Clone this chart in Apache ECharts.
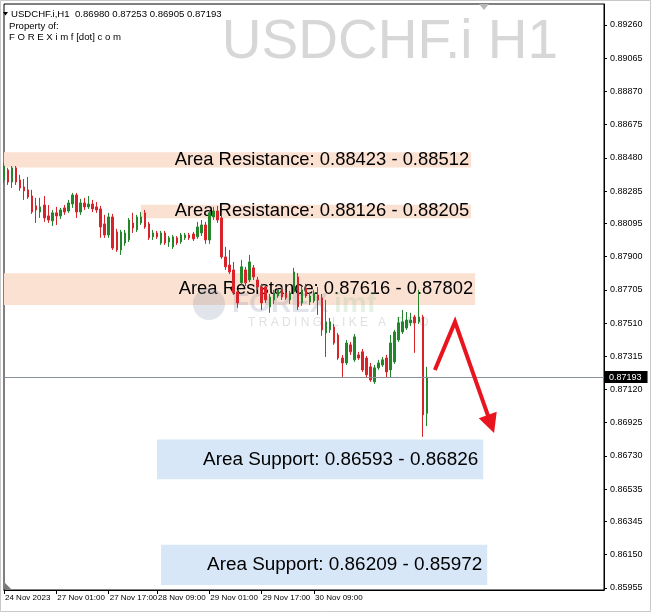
<!DOCTYPE html>
<html><head><meta charset="utf-8">
<script src="https://cdn.jsdelivr.net/npm/echarts@6/dist/echarts.min.js"></script>
<style>html,body{margin:0;padding:0;background:#fff}#c{width:652px;height:613px}</style>
</head><body><div id="c"></div>
<script>
// H1 candles: [open, close, low, high]
const candles = [
[0.88350,0.88432,0.88333,0.88450],[0.88409,0.88338,0.88321,0.88421],[0.88338,0.88421,0.88303,0.88432],
[0.88421,0.88338,0.88321,0.88432],[0.88350,0.88303,0.88286,0.88380],[0.88309,0.88286,0.88233,0.88356],
[0.88292,0.88250,0.88239,0.88368],[0.88256,0.88162,0.88151,0.88292],[0.88198,0.88174,0.88098,0.88245],
[0.88162,0.88192,0.88127,0.88245],[0.88203,0.88127,0.88104,0.88256],[0.88139,0.88115,0.88098,0.88203],
[0.88110,0.88157,0.88080,0.88174],[0.88157,0.88139,0.88086,0.88192],[0.88139,0.88174,0.88121,0.88186],
[0.88186,0.88162,0.88145,0.88203],[0.88168,0.88215,0.88157,0.88233],[0.88209,0.88262,0.88186,0.88274],
[0.88262,0.88162,0.88127,0.88274],[0.88162,0.88215,0.88145,0.88239],[0.88215,0.88192,0.88174,0.88245],
[0.88192,0.88209,0.88180,0.88256],[0.88209,0.88180,0.88162,0.88233],[0.88192,0.88174,0.88157,0.88221],
[0.88180,0.88074,0.88010,0.88198],[0.88092,0.88027,0.88010,0.88145],[0.88027,0.88133,0.88010,0.88157],
[0.88133,0.87951,0.87939,0.88151],[0.88045,0.87939,0.87928,0.88063],[0.87939,0.88045,0.87910,0.88057],
[0.87980,0.88039,0.87963,0.88057],[0.87998,0.88115,0.87986,0.88127],[0.88098,0.88068,0.88039,0.88157],
[0.88057,0.88133,0.88045,0.88145],[0.88098,0.88133,0.88086,0.88162],[0.88157,0.88074,0.88063,0.88174],
[0.88092,0.88010,0.87998,0.88104],[0.88016,0.88039,0.87998,0.88057],[0.88039,0.88016,0.88004,0.88051],
[0.87980,0.88039,0.87969,0.88051],[0.88039,0.87980,0.87969,0.88051],[0.87986,0.88010,0.87957,0.88021],
[0.87957,0.88016,0.87945,0.88027],[0.88010,0.87980,0.87969,0.88021],[0.87986,0.88027,0.87975,0.88039],
[0.88010,0.88027,0.87998,0.88039],[0.88027,0.88010,0.87998,0.88039],[0.88033,0.88004,0.87992,0.88045],
[0.88016,0.88074,0.88004,0.88104],[0.88039,0.88086,0.88021,0.88115],[0.88086,0.87998,0.87975,0.88104],
[0.87998,0.88157,0.87975,0.88174],[0.88133,0.88168,0.88115,0.88192],[0.88168,0.88115,0.88098,0.88198],
[0.88127,0.87898,0.87887,0.88145],[0.87898,0.87840,0.87822,0.87957],[0.87851,0.87810,0.87798,0.87939],
[0.87822,0.87687,0.87675,0.87869],[0.87693,0.87628,0.87599,0.87705],[0.87746,0.87840,0.87734,0.87881],
[0.87822,0.87746,0.87728,0.87840],[0.87763,0.87869,0.87751,0.87910],[0.87834,0.87781,0.87763,0.87851],
[0.87763,0.87722,0.87705,0.87781],[0.87722,0.87628,0.87587,0.87740],[0.87722,0.87646,0.87628,0.87734],
[0.87605,0.87663,0.87570,0.87681],[0.87646,0.87687,0.87622,0.87705],[0.87669,0.87705,0.87658,0.87716],
[0.87705,0.87663,0.87646,0.87722],[0.87687,0.87658,0.87646,0.87705],[0.87646,0.87687,0.87622,0.87699],
[0.87693,0.87810,0.87681,0.87834],[0.87781,0.87605,0.87587,0.87804],[0.87628,0.87705,0.87611,0.87728],
[0.87716,0.87669,0.87658,0.87740],[0.87634,0.87669,0.87616,0.87687],[0.87640,0.87687,0.87628,0.87705],
[0.87675,0.87646,0.87558,0.87722],[0.87658,0.87470,0.87435,0.87681],[0.87452,0.87517,0.87311,0.87646],
[0.87470,0.87517,0.87452,0.87540],[0.87487,0.87393,0.87382,0.87505],[0.87440,0.87305,0.87294,0.87452],
[0.87305,0.87276,0.87194,0.87323],[0.87276,0.87393,0.87264,0.87411],[0.87382,0.87341,0.87323,0.87399],
[0.87294,0.87429,0.87282,0.87446],[0.87323,0.87305,0.87294,0.87341],[0.87341,0.87235,0.87223,0.87358],
[0.87305,0.87206,0.87188,0.87317],[0.87253,0.87176,0.87165,0.87276],[0.87165,0.87247,0.87153,0.87264],
[0.87247,0.87276,0.87235,0.87294],[0.87264,0.87294,0.87253,0.87311],[0.87305,0.87223,0.87188,0.87323],
[0.87235,0.87393,0.87188,0.87440],[0.87282,0.87458,0.87270,0.87470],[0.87411,0.87511,0.87399,0.87546],
[0.87458,0.87517,0.87446,0.87587],[0.87481,0.87528,0.87470,0.87575],[0.87511,0.87528,0.87493,0.87570],
[0.87546,0.87511,0.87335,0.87558],[0.87517,0.87546,0.87505,0.87705],[0.87546,0.86971,0.86842,0.87558],
[0.86980,0.87193,0.86905,0.87253]
];
const slotCount = 150;
const timeLabels = ['24 Nov 2023','27 Nov 01:00','27 Nov 17:00','28 Nov 09:00','29 Nov 01:00','29 Nov 17:00','30 Nov 09:00'];
const labelSlots = [0, 13, 26, 38, 51, 64, 77];
const yTicks = [0.85955,0.86150,0.86345,0.86535,0.86730,0.86925,0.87120,0.87315,0.87510,0.87705,0.87900,0.88095,0.88285,0.88480,0.88675,0.88870,0.89065,0.89260];
const yMin = 0.85943, yMax = 0.89383;
const lastPrice = 0.87193;
const headerOHLC = '0.86980 0.87253 0.86905 0.87193';

const zoneNames = ['Area Resistance','Area Resistance','Area Resistance','Area Support','Area Support'];
const zoneFrom  = [0.88423, 0.88126, 0.87616, 0.86593, 0.86209];
const zoneTo    = [0.88512, 0.88205, 0.87802, 0.86826, 0.85972];
const zoneStartSlot = [0, 34, 0, 38, 39];
const zoneEndSlot   = [116, 116, 117, 119, 120];
const zoneKind = ['res','res','res','sup','sup'];
const arrowPath = [[107, 0.87235], [112, 0.87517], [121.7, 0.86865]];

const FONT = 'Liberation Sans, Arial, sans-serif';
const RES_COLOR = '#fbe1d2', SUP_COLOR = '#d7e7f7';
const UP = '#23862a', DOWN = '#d9232b';

const categories = Array.from({length: slotCount}, (_, i) => String(i));
const labelMap = {};
labelSlots.forEach((s, i) => labelMap[s] = timeLabels[i]);

const fmt = v => v.toFixed(5);
const bandData = zoneFrom.map((f, i) => [
  {xAxis: zoneStartSlot[i], yAxis: Math.max(f, zoneTo[i]), itemStyle: {color: zoneKind[i] === 'res' ? RES_COLOR : SUP_COLOR}},
  {xAxis: zoneEndSlot[i], yAxis: Math.min(f, zoneTo[i])}
]);
const textData = zoneFrom.map((f, i) => [
  {xAxis: zoneStartSlot[i], yAxis: Math.max(f, zoneTo[i]),
   label: {formatter: zoneNames[i] + ': ' + fmt(f) + ' - ' + fmt(zoneTo[i]),
     distance: zoneKind[i] === 'res' ? 2 : 5, fontSize: zoneKind[i] === 'res' ? 18.4 : 18.9}},
  {xAxis: zoneEndSlot[i], yAxis: Math.min(f, zoneTo[i])}
]);

const chart = echarts.init(document.getElementById('c'), null, {renderer: 'canvas'});
const option = {
  animation: false,
  backgroundColor: '#fff',
  grid: {left: 4, top: 4, right: 48, bottom: 23, show: true, borderColor: '#000', borderWidth: 1, backgroundColor: 'transparent'},
  xAxis: {
    type: 'category', data: categories, boundaryGap: false,
    axisLine: {show: true, lineStyle: {color: '#000', width: 1}},
    axisTick: {show: true, length: 4, lineStyle: {color: '#000'}, interval: (i) => labelMap[i] !== undefined},
    axisLabel: {show: true, interval: (i) => labelMap[i] !== undefined, formatter: (v, i) => labelMap[i] || '',
      align: 'left', margin: 4, color: '#000', fontSize: 8, fontFamily: FONT, padding: [0, 0, 0, 1]},
    splitLine: {show: false}
  },
  yAxis: {
    type: 'value', position: 'right', min: yMin, max: yMax, scale: true,
    axisLine: {show: true, lineStyle: {color: '#000', width: 1}},
    axisTick: {show: true, length: 3, inside: false, lineStyle: {color: '#000'}, customValues: yTicks},
    axisLabel: {customValues: yTicks, formatter: v => fmt(v), color: '#000', fontSize: 9, fontFamily: FONT, margin: 6},
    splitLine: {show: false}
  },
  series: [
    {type: 'line', data: [], z: 1, silent: true,
     markArea: {silent: true, itemStyle: {opacity: 1}, label: {show: false}, data: bandData}},
    {type: 'line', data: [], z: 2, silent: true,
     markLine: {silent: true, symbol: ['none', 'none'], precision: 5,
       lineStyle: {color: '#8a9099', width: 1, type: 'solid'},
       data: [{yAxis: lastPrice}],
       label: {show: true, position: 'end', distance: 1, formatter: fmt(lastPrice),
         backgroundColor: '#000', color: '#fff', fontSize: 9, fontFamily: FONT, padding: [2, 6, 1, 4]}}},
    {type: 'candlestick', data: candles, z: 3, barWidth: 2, clip: true,
     itemStyle: {color: UP, color0: DOWN, borderColor: UP, borderColor0: DOWN, borderWidth: 1}},
    {type: 'line', data: [], z: 5, silent: true,
     markArea: {silent: true, itemStyle: {color: 'rgba(0,0,0,0)'},
       label: {show: true, position: 'insideRight', color: '#000', fontSize: 18.4, fontFamily: FONT},
       data: textData}}
  ]
};
chart.setOption(option);

// Arrow annotation in data coordinates
function toPx(pt) {
  const a = chart.convertToPixel({xAxisIndex: 0, yAxisIndex: 0}, [0, pt[1]]);
  const b = chart.convertToPixel({xAxisIndex: 0, yAxisIndex: 0}, [100, pt[1]]);
  return [a[0] + pt[0] * (b[0] - a[0]) / 100, a[1]];
}
const pts = arrowPath.map(toPx);
const tip = pts[pts.length - 1], prev = pts[pts.length - 2];
const dx = tip[0] - prev[0], dy = tip[1] - prev[1], len = Math.hypot(dx, dy);
const ux = dx / len, uy = dy / len, HL = 19, HW = 9.5;
const base = [tip[0] - ux * HL, tip[1] - uy * HL];
const shaft = pts.slice(0, -1).concat([[base[0] + ux * 2, base[1] + uy * 2]]);
const head = [tip, [base[0] - uy * HW, base[1] + ux * HW], [base[0] + uy * HW, base[1] - ux * HW]];

chart.setOption({
  graphic: [
    {type: 'rect', z: 100, silent: true, shape: {x: 0.5, y: 0.5, width: 650, height: 611}, style: {fill: 'none', stroke: '#c9c9c9', lineWidth: 1}},
    {type: 'text', z: 0, silent: true, style: {text: 'USDCHF.i H1', x: 558, y: 43, textAlign: 'right', textVerticalAlign: 'middle', font: '55px ' + FONT, fill: '#d7d7d7'}},
    {type: 'polygon', z: 50, silent: true, shape: {points: [[3, 12], [8, 12], [5.5, 15.5]]}, style: {fill: '#000'}},
    {type: 'text', z: 50, silent: true, style: {text: 'USDCHF.i,H1  ' + headerOHLC, x: 11, y: 14, textVerticalAlign: 'middle', font: '9.6px ' + FONT, fill: '#000'}},
    {type: 'text', z: 50, silent: true, style: {text: 'Property of:', x: 9, y: 26, textVerticalAlign: 'middle', font: '9.6px ' + FONT, fill: '#000'}},
    {type: 'text', z: 50, silent: true, style: {text: 'F O R E X i m f [dot] c o m', x: 9, y: 37, textVerticalAlign: 'middle', font: '9.6px ' + FONT, fill: '#000'}},
    {type: 'polygon', z: 50, silent: true, shape: {points: [[479, 4], [489, 4], [484, 10]]}, style: {fill: '#b8b8b8'}},
    {type: 'polygon', z: 50, silent: true, shape: {points: [[5, 583], [5, 589], [11, 589]]}, style: {fill: '#777'}},
    {type: 'circle', z: 2, silent: true, shape: {cx: 209, cy: 304, r: 16}, style: {fill: 'rgba(120,130,160,0.22)'}},
    {type: 'text', z: 2, silent: true, style: {text: 'FOREX', x: 232, y: 304, textVerticalAlign: 'middle', font: 'bold 28px ' + FONT, fill: 'rgba(120,130,165,0.22)'}},
    {type: 'text', z: 2, silent: true, style: {text: 'imf', x: 334, y: 304, textVerticalAlign: 'middle', font: 'bold 28px ' + FONT, fill: 'rgba(150,200,150,0.25)'}},
    {type: 'text', z: 2, silent: true, style: {text: 'T R A D I N G   L I K E   A   P R O', x: 248, y: 323, textVerticalAlign: 'middle', font: '12px ' + FONT, fill: 'rgba(160,165,175,0.35)'}},
    {type: 'polyline', z: 60, silent: true, shape: {points: shaft}, style: {stroke: '#e8141e', lineWidth: 4, fill: 'none', lineJoin: 'miter'}},
    {type: 'polygon', z: 60, silent: true, shape: {points: head}, style: {fill: '#e8141e'}}
  ]
});
</script></body></html>
